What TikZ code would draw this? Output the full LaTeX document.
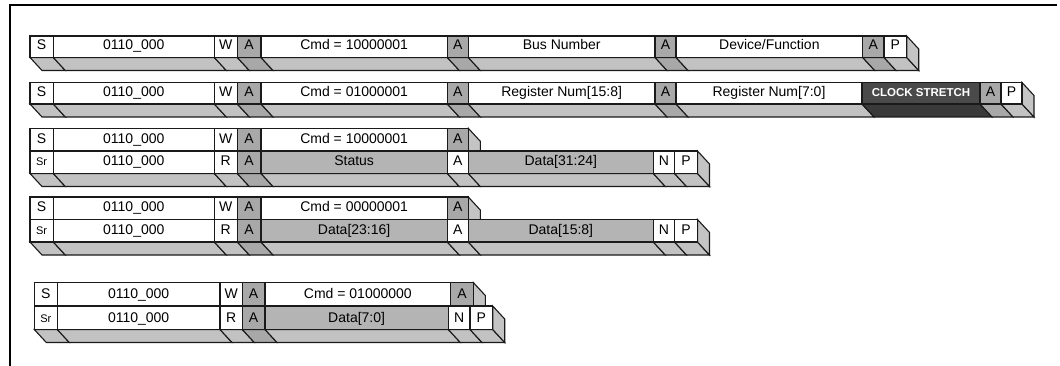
\documentclass[tikz,border=0pt]{standalone}
\usepackage{fontspec}
\setmainfont{Liberation Sans}
\definecolor{gA}{HTML}{A8A8A8}
\definecolor{gD}{HTML}{B4B4B4}
\definecolor{bandc}{HTML}{C2C2C2}
\definecolor{face}{HTML}{C4C4C4}
\definecolor{clk}{HTML}{4A4A4A}
\definecolor{clkb}{HTML}{3A3A3A}
\definecolor{ln}{HTML}{1A1A1A}
\def\dX{12}
\def\dY{13}
\newcommand\clktxt{\color{white}\bfseries\fontsize{11.5}{13}\selectfont}
\newcommand\srtxt{\fontsize{11}{12}\selectfont}
\tikzset{
  cl/.style={draw=ln, line width=1.1pt, line join=miter},
  ct/.style={anchor=base, inner sep=0pt, font=\fontsize{14}{16}\selectfont, text=black},
}
\newcommand\drawcells[3]{%
  \foreach \xa/\xb/\fc/\bc/\txt in #3{%
    \draw[cl, fill=\fc] (\xa,#1) rectangle (\xb,#2);
    \node[ct] at ({(\xa+\xb)/2},#2-7.5) {\txt};
  }}
\newcommand\drawband[2]{%
  \foreach \xa/\xb/\fc/\bc/\txt in #2{%
    \filldraw[cl, fill=\bc] (\xa,#1) -- (\xb,#1) -- (\xb+\dX,#1+\dY) -- (\xa+\dX,#1+\dY) -- cycle;
  }}
\newcommand\drawface[4][face]{%
  \filldraw[cl, fill=#1] (#2,#3) -- (#2+\dX,#3+\dY) -- (#2+\dX,#4+\dY) -- (#2,#4) -- cycle;}
\begin{document}
\begin{tikzpicture}[x=1pt,y=-1pt]
\useasboundingbox (0,0) rectangle (1060,366);
\draw[line width=2pt] (1057,5) -- (9.7,5) -- (9.7,366);
% ---------- Row 1
\def\rowA{30/53.3/white/bandc/S, 53.3/214.3/white/bandc/0110\_000, 214.3/237.3/white/bandc/W, 237.3/261/gA/gA/A, 261/447.3/white/bandc/Cmd = 10000001, 447.3/468.3/gA/gA/A, 468.3/655/white/bandc/Bus Number, 655/676/gA/gA/A, 676/862.7/white/bandc/{Device/Function}, 862.7/884/gA/gA/A, 884/906.7/white/bandc/P}
\drawband{57.5}{\rowA}
\drawface{906.7}{36}{57.5}
\drawcells{36}{57.5}{\rowA}
% ---------- Row 2
\def\rowB{30/53.3/white/bandc/S, 53.3/214.3/white/bandc/0110\_000, 214.3/237.3/white/bandc/W, 237.3/261/gA/gA/A, 261/447.3/white/bandc/Cmd = 01000001, 447.3/468.3/gA/gA/A, 468.3/655/white/bandc/Register Num[15:8], 655/676/gA/gA/A, 676/862/white/bandc/Register Num[7:0], 862/980/clk/clkb/{\clktxt CLOCK STRETCH}, 980/1001/gA/gA/A, 1001/1022/white/bandc/P}
\drawband{104}{\rowB}
\drawface{1022}{82.5}{104}
\drawcells{82.5}{104}{\rowB}
% ---------- Row 3
\def\rowCa{30/53.3/white/bandc/S, 53.3/214.3/white/bandc/0110\_000, 214.3/237.3/white/bandc/W, 237.3/261/gA/gA/A, 261/447.3/white/bandc/Cmd = 10000001, 447.3/468.3/gA/gA/A}
\def\rowCb{30/53.3/white/bandc/{\srtxt Sr}, 53.3/214.3/white/bandc/0110\_000, 214.3/237.3/white/bandc/R, 237.3/261/gA/gA/A, 261/447.3/gD/bandc/Status, 447.3/468.3/white/bandc/A, 468.3/653.3/gD/bandc/Data[31:24], 653.3/674.5/white/bandc/N, 674.5/697.5/white/bandc/P}
\drawface{468.3}{128.3}{151}
\drawcells{128.3}{151}{\rowCa}
\drawband{173.5}{\rowCb}
\drawface{697.5}{151}{173.5}
\drawcells{151}{173.5}{\rowCb}
% ---------- Row 4
\def\rowDa{30/53.3/white/bandc/S, 53.3/214.3/white/bandc/0110\_000, 214.3/237.3/white/bandc/W, 237.3/261/gA/gA/A, 261/447.3/white/bandc/Cmd = 00000001, 447.3/468.3/gA/gA/A}
\def\rowDb{30/53.3/white/bandc/{\srtxt Sr}, 53.3/214.3/white/bandc/0110\_000, 214.3/237.3/white/bandc/R, 237.3/261/gA/gA/A, 261/447.3/gD/bandc/Data[23:16], 447.3/468.3/white/bandc/A, 468.3/653.3/gD/bandc/Data[15:8], 653.3/674.5/white/bandc/N, 674.5/697.5/white/bandc/P}
\drawface{468.3}{197}{219.5}
\drawcells{197}{219.5}{\rowDa}
\drawband{242}{\rowDb}
\drawface{697.5}{219.5}{242}
\drawcells{219.5}{242}{\rowDb}
% ---------- Row 5
\def\rowEa{34.3/57.3/white/bandc/S, 57.3/220/white/bandc/0110\_000, 220/242.3/white/bandc/W, 242.3/265/gA/gA/A, 265/450.7/white/bandc/Cmd = 01000000, 450.7/473.3/gA/gA/A}
\def\rowEb{34.3/57.3/white/bandc/{\srtxt Sr}, 57.3/220/white/bandc/0110\_000, 220/242.3/white/bandc/R, 242.3/265/gA/gA/A, 265/448.3/gD/bandc/Data[7:0], 448.3/470/white/bandc/N, 470/492.7/white/bandc/P}
\drawface{473.3}{282.5}{306}
\drawcells{282.5}{306}{\rowEa}
\drawband{329.5}{\rowEb}
\drawface{492.7}{306}{329.5}
\drawcells{306}{329.5}{\rowEb}
\end{tikzpicture}
\end{document}
